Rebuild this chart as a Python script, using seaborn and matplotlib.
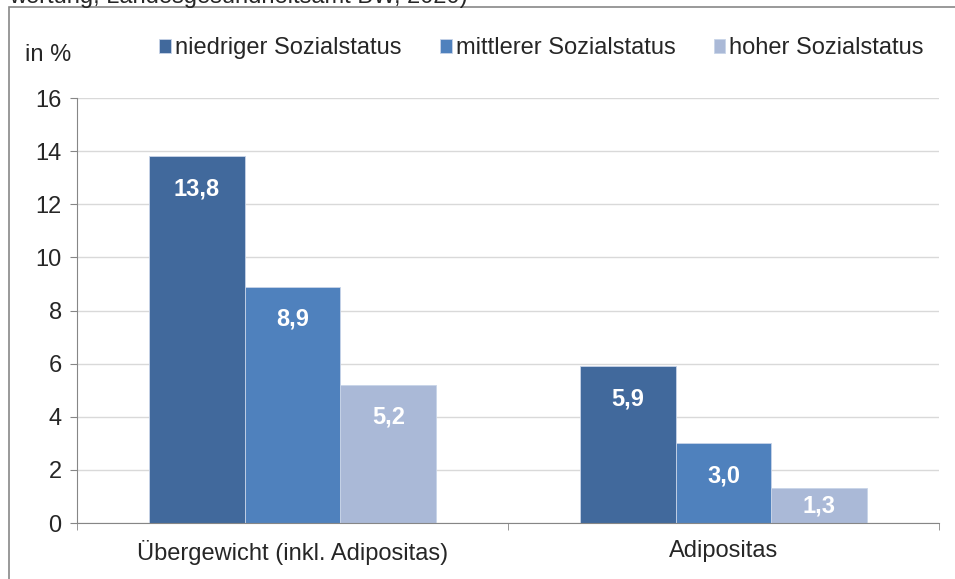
import matplotlib
matplotlib.use("Agg")
import matplotlib.pyplot as plt
import seaborn as sns
import pandas as pd
from matplotlib.patches import Rectangle

sns.set_style("white")
plt.rcParams['font.family'] = ['Liberation Sans', 'DejaVu Sans']

# data
categories = ['Übergewicht (inkl. Adipositas)', 'Adipositas']
groups = ['niedriger Sozialstatus', 'mittlerer Sozialstatus', 'hoher Sozialstatus']
niedrig = [13.8, 5.9]
mittel = [8.9, 3.0]
hoch = [5.2, 1.3]
colors = ['#41699c', '#4f81bd', '#aab9d7']

df = pd.DataFrame({
    'Kategorie': categories * 3,
    'Status': [groups[0]] * 2 + [groups[1]] * 2 + [groups[2]] * 2,
    'Wert': niedrig + mittel + hoch,
})

fig = plt.figure(figsize=(9.55, 5.79), dpi=100)
ax = fig.add_axes([0.0806, 0.0967, 0.9026, 0.734])

sns.barplot(data=df, x='Kategorie', y='Wert', hue='Status', order=categories,
            hue_order=groups, palette=colors, width=0.667, gap=0,
            edgecolor='#c8d4e8', linewidth=0.6, saturation=1, ax=ax)

ax.set_ylim(0, 16)
ax.set_xlim(-0.5, 1.5)
ax.set_yticks(range(0, 17, 2))
ax.yaxis.grid(True, color='#d9d9d9', linewidth=1)
ax.set_axisbelow(True)
ax.set_xlabel('')
ax.set_ylabel('')
for s in ['top', 'right']:
    ax.spines[s].set_visible(False)
for s in ['left', 'bottom']:
    ax.spines[s].set_color('#868686')
ax.tick_params(axis='y', labelsize=17, length=5, color='#868686', left=True, pad=6)
ax.tick_params(axis='x', labelsize=17, length=0, pad=12)
ax.set_xticks([-0.5, 0.5, 1.5], minor=True)
ax.tick_params(axis='x', which='minor', length=5, color='#868686', bottom=True)

# value labels
for cont in ax.containers:
    for bar in cont:
        v = bar.get_height()
        x = bar.get_x() + bar.get_width() / 2
        lab = f'{v:.1f}'.replace('.', ',')
        if v < 2:
            ax.text(x, v / 2, lab, ha='center', va='center', color='white',
                    fontsize=17, fontweight='bold')
        else:
            ax.annotate(lab, (x, v), xytext=(0, -15), textcoords='offset points',
                        ha='center', va='top', color='white', fontsize=17,
                        fontweight='bold')

# legend
handles, labels = ax.get_legend_handles_labels()
ax.legend(handles, labels, loc='center', bbox_to_anchor=(0.539, 1.117), ncol=3,
          frameon=False, fontsize=17, handlelength=0.5, handleheight=0.5,
          handletextpad=0.17, columnspacing=1.62, borderpad=0)

fig.text(0.026, 0.905, 'in %', fontsize=17, va='center')

# outer frame and clipped heading line
fig.patches.append(Rectangle((9 / 955, -0.1), 1.2, 0.1 + 1 - 7 / 579,
                             transform=fig.transFigure, fill=False,
                             edgecolor='#888888', linewidth=1.2))
fig.text(9 / 955, 1 - 3 / 579, 'wertung, Landesgesundheitsamt BW, 2020)',
         fontsize=17, va='baseline')

fig.savefig('out.png', dpi=100)
